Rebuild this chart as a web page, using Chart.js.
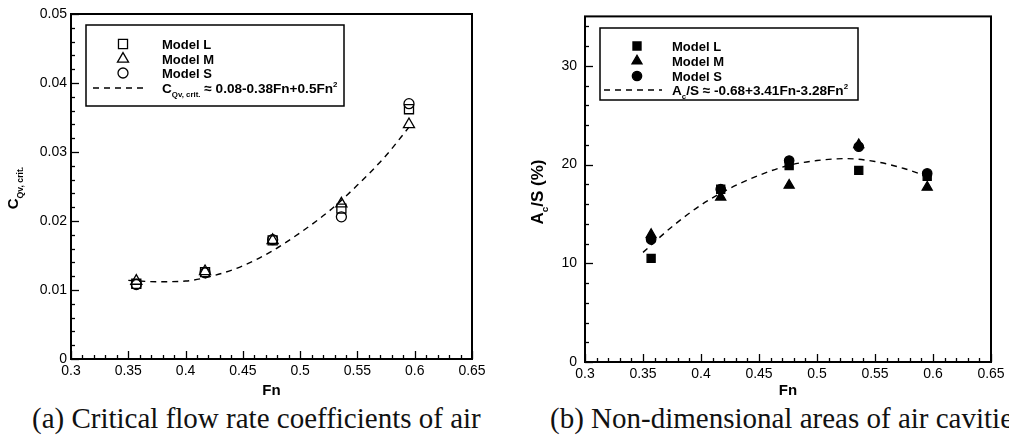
<!DOCTYPE html>
<html>
<head>
<meta charset="utf-8">
<title>Critical flow rate and cavity area vs Fn</title>
<script src="https://cdn.jsdelivr.net/npm/chart.js@4.4.0/dist/chart.umd.min.js"></script>
<style>
    body { margin: 0; width: 1009px; height: 435px; overflow: hidden; background: #fff; position: relative; }
    .plot { position: absolute; top: 0; }
    .caption { position: absolute; top: 404px; font-family: "Liberation Serif", "Times New Roman", serif; font-size: 29px; line-height: 29px; white-space: nowrap; color: #111; }
</style>
</head>
<body>
<canvas id="chartA" class="plot" style="left:0px" width="500" height="398"></canvas>
<canvas id="chartB" class="plot" style="left:500px" width="509" height="398"></canvas>
<div class="caption" style="left:32px">(a) Critical flow rate coefficients of air</div>
<div class="caption" style="left:550px">(b) Non-dimensional areas of air cavities</div>

<script>
// DATA
const fnPoints = [0.357, 0.417, 0.476, 0.536, 0.595];

const cqModelL = [0.0109, 0.0126, 0.0172, 0.0218, 0.0362];
const cqModelM = [0.0113, 0.0127, 0.0172, 0.0225, 0.0340];
const cqModelS = [0.0108, 0.0125, 0.0173, 0.0206, 0.0370];

const acModelL = [10.5, 17.5, 19.9, 19.4, 18.8];
const acModelM = [12.9, 16.7, 17.9, 22.0, 17.7];
const acModelS = [12.4, 17.5, 20.4, 21.8, 19.1];

// dashed fit curves, sampled along the drawn line
const fitFn = [0.35, 0.375, 0.40, 0.425, 0.45, 0.475, 0.50, 0.525, 0.55, 0.575, 0.595];
const cqFit = [0.0114, 0.0112, 0.0113, 0.0121, 0.0135, 0.0156, 0.0183, 0.0214, 0.0252, 0.0295, 0.0336];
const acFit = [11.1, 13.7, 15.9, 17.6, 18.9, 19.9, 20.4, 20.6, 20.3, 19.6, 18.8];

const fnTicks = [0.3, 0.35, 0.4, 0.45, 0.5, 0.55, 0.6, 0.65];
const cqTicks = [0, 0.01, 0.02, 0.03, 0.04, 0.05];
const acTicks = [0, 10, 20, 30];

const legendLabels = ['Model L', 'Model M', 'Model S'];

const FONT = '"Liberation Sans", Arial, Helvetica, sans-serif';

function pairs(xs, ys) {
    return xs.map(function (x, i) { return { x: x, y: ys[i] }; });
}

// text with sub/superscripts: parts = [[text, ''|'sub'|'sup'], ...]
function richWidth(ctx, parts, size) {
    let w = 0;
    parts.forEach(function (p) {
        let s = p[1] ? size * 0.58 : size;
        ctx.font = 'bold ' + s + 'px ' + FONT;
        w += ctx.measureText(p[0]).width;
    });
    return w;
}
function drawRich(ctx, x, y, parts, size) {
    let cx = x;
    ctx.textAlign = 'left';
    ctx.textBaseline = 'alphabetic';
    parts.forEach(function (p) {
        let s = p[1] ? size * 0.58 : size;
        let dy = p[1] === 'sub' ? size * 0.28 : (p[1] === 'sup' ? -size * 0.42 : 0);
        ctx.font = 'bold ' + s + 'px ' + FONT;
        ctx.fillText(p[0], cx, y + dy);
        cx += ctx.measureText(p[0]).width;
    });
}

// same shapes as Chart.js point styles
function drawMarker(ctx, style, x, y, r, filled) {
    ctx.beginPath();
    if (style === 'rect') {
        let h = r * Math.SQRT1_2;
        ctx.rect(x - h, y - h, 2 * h, 2 * h);
    } else if (style === 'triangle') {
        ctx.moveTo(x, y - r);
        ctx.lineTo(x + r * 0.866, y + r * 0.5);
        ctx.lineTo(x - r * 0.866, y + r * 0.5);
        ctx.closePath();
    } else {
        ctx.arc(x, y, r, 0, Math.PI * 2);
    }
    if (filled) ctx.fill();
    ctx.stroke();
}

const figPlugin = {
    id: 'figFrame',
    afterDraw: function (chart, args, o) {
        let ctx = chart.ctx;
        let a = chart.chartArea;
        let xs = chart.scales.x, ys = chart.scales.y;
        ctx.save();
        ctx.strokeStyle = '#000';
        ctx.fillStyle = '#000';

        // ticks on bottom and left axes, pointing inwards
        ctx.lineWidth = 1.3;
        let n = Math.floor((xs.max - xs.min) / o.xMinor + 1e-6);
        for (let i = 0; i <= n; i++) {
            let px = Math.round(xs.getPixelForValue(xs.min + i * o.xMinor)) + 0.5;
            let len = i % 5 === 0 ? 8 : 4;
            ctx.beginPath();
            ctx.moveTo(px, a.bottom);
            ctx.lineTo(px, a.bottom - len);
            ctx.stroke();
        }
        n = Math.floor((ys.max - ys.min) / o.yMinor + 1e-6);
        for (let i = 0; i <= n; i++) {
            let py = Math.round(ys.getPixelForValue(ys.min + i * o.yMinor)) + 0.5;
            let len = i % 5 === 0 ? 8 : 4;
            ctx.beginPath();
            ctx.moveTo(a.left, py);
            ctx.lineTo(a.left + len, py);
            ctx.stroke();
        }

        // frame
        ctx.lineWidth = 2;
        ctx.strokeRect(a.left, a.top, a.right - a.left, a.bottom - a.top);

        // x title
        ctx.font = 'bold 15px ' + FONT;
        ctx.textAlign = 'center';
        ctx.textBaseline = 'middle';
        ctx.fillText('Fn', (a.left + a.right) / 2, o.xTitleY);

        // y title, rotated
        ctx.save();
        ctx.translate(o.yTitle[0], o.yTitle[1]);
        ctx.rotate(-Math.PI / 2);
        let tw = richWidth(ctx, o.yTitleParts, o.yTitleSize);
        drawRich(ctx, -tw / 2, o.yTitleSize * 0.36, o.yTitleParts, o.yTitleSize);
        ctx.restore();

        // legend box
        let b = o.box;
        ctx.fillStyle = '#fff';
        ctx.fillRect(b[0], b[1], b[2] - b[0], b[3] - b[1]);
        ctx.lineWidth = 1.5;
        ctx.strokeRect(b[0], b[1], b[2] - b[0], b[3] - b[1]);
        ctx.fillStyle = '#000';
        ctx.lineWidth = 1.3;
        let styles = ['rect', 'triangle', 'circle'];
        for (let i = 0; i < 3; i++) {
            let ds = chart.data.datasets[i];
            drawMarker(ctx, styles[i], o.symX, o.rows[i], ds.pointRadius, o.filled);
            drawRich(ctx, o.textX, o.rows[i] + 4.6, [[legendLabels[i], '']], 13);
        }
        ctx.lineWidth = 1.3;
        ctx.setLineDash([6, 5]);
        ctx.beginPath();
        ctx.moveTo(o.dash[0], o.rows[3]);
        ctx.lineTo(o.dash[1], o.rows[3]);
        ctx.stroke();
        ctx.setLineDash([]);
        drawRich(ctx, o.textX, o.rows[3] + 4.8, o.eqParts, 13.6);

        ctx.restore();
    }
};

function makeChart(id, cfg) {
    let ctx = document.getElementById(id).getContext('2d');
    let marker = function (label, ys, style, r) {
        return {
            label: label,
            data: pairs(fnPoints, ys),
            pointStyle: style,
            pointRadius: r,
            pointBorderWidth: 1.3,
            pointBorderColor: '#000',
            pointBackgroundColor: cfg.filled ? '#000' : 'rgba(0,0,0,0)',
            showLine: false,
            order: 0
        };
    };
    return new Chart(ctx, {
        type: 'scatter',
        data: {
            datasets: [
                marker(legendLabels[0], cfg.L, 'rect', cfg.r[0]),
                marker(legendLabels[1], cfg.M, 'triangle', cfg.r[1]),
                marker(legendLabels[2], cfg.S, 'circle', cfg.r[2]),
                {
                    label: 'fit',
                    data: pairs(fitFn, cfg.fit),
                    showLine: true,
                    pointRadius: 0,
                    borderColor: '#000',
                    borderWidth: 1.4,
                    borderDash: [6, 5],
                    tension: 0.4,
                    cubicInterpolationMode: 'monotone',
                    order: 1
                }
            ]
        },
        options: {
            responsive: false,
            animation: false,
            layout: { padding: { top: cfg.top, right: cfg.right, left: 0, bottom: 0 } },
            scales: {
                x: {
                    type: 'linear', min: 0.3, max: 0.65,
                    afterBuildTicks: function (s) { s.ticks = fnTicks.map(function (v) { return { value: v }; }); },
                    afterFit: function (s) { s.height = cfg.xH; },
                    grid: { display: false, drawTicks: false },
                    border: { display: false },
                    ticks: { color: '#000', font: { family: FONT, size: 14 }, padding: 4, maxRotation: 0, autoSkip: false,
                        callback: function (v) { return String(v); } }
                },
                y: {
                    type: 'linear', min: cfg.yMin, max: cfg.yMax,
                    afterBuildTicks: function (s) { s.ticks = cfg.yTicks.map(function (v) { return { value: v }; }); },
                    afterFit: function (s) { s.width = cfg.yW; },
                    grid: { display: false, drawTicks: false },
                    border: { display: false },
                    ticks: { color: '#000', font: { family: FONT, size: 14 }, padding: cfg.yPad, autoSkip: false,
                        callback: function (v) { return String(v); } }
                }
            },
            plugins: {
                legend: { display: false },
                tooltip: { enabled: false },
                figFrame: cfg.deco
            }
        },
        plugins: [figPlugin]
    });
}

// (a) critical flow rate coefficient
makeChart('chartA', {
    L: cqModelL, M: cqModelM, S: cqModelS, fit: cqFit,
    r: [6.4, 6.4, 5], filled: false,
    yMin: 0, yMax: 0.05, yTicks: cqTicks,
    top: 14, right: 28, xH: 39, yW: 71, yPad: 4,
    deco: {
        xMinor: 0.01, yMinor: 0.002, xTitleY: 391,
        yTitle: [13, 188], yTitleSize: 15,
        yTitleParts: [['C', ''], ['Qv, crit.', 'sub']],
        box: [86, 25, 344, 106], symX: 123, textX: 162, rows: [44, 59, 73, 88], dash: [93, 147],
        filled: false,
        eqParts: [['C', ''], ['Qv, crit.', 'sub'], [' \u2248 0.08-0.38Fn+0.5Fn', ''], ['2', 'sup']]
    }
});

// (b) non-dimensional cavity area
makeChart('chartB', {
    L: acModelL, M: acModelM, S: acModelS, fit: acFit,
    r: [5.7, 5.8, 4.7], filled: true,
    yMin: 0, yMax: 35, yTicks: acTicks,
    top: 16, right: 18, xH: 36, yW: 85, yPad: 8,
    deco: {
        xMinor: 0.01, yMinor: 2, xTitleY: 391,
        yTitle: [37, 192], yTitleSize: 17,
        yTitleParts: [['A', ''], ['c', 'sub'], ['/S (%)', '']],
        box: [100, 28, 358, 100], symX: 137, textX: 172, rows: [46, 61, 76, 90], dash: [104, 162],
        filled: true,
        eqParts: [['A', ''], ['c', 'sub'], ['/S \u2248 -0.68+3.41Fn-3.28Fn', ''], ['2', 'sup']]
    }
});
</script>
</body>
</html>
